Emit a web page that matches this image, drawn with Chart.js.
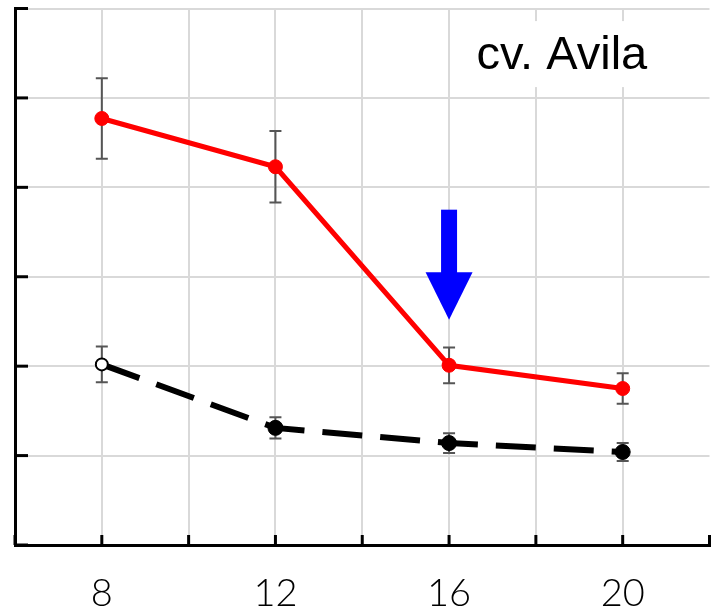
<!DOCTYPE html>
<html>
<head>
<meta charset="utf-8">
<script src="https://cdn.jsdelivr.net/npm/chart.js@4"></script>
<style>
	html, body { margin: 0; padding: 0; background: #fff; }
	#chart { display: block; }
</style>
</head>
<body>
<canvas id="chart" width="718" height="613"></canvas>
<script>
// values
const xValues = [8, 12, 16, 20];
const redValues = [4.77, 4.23, 2.01, 1.75];
const redErrors = [0.45, 0.40, 0.20, 0.17];
const blackValues = [2.02, 1.31, 1.14, 1.04];
const blackErrors = [0.20, 0.12, 0.11, 0.10];
const xTickLabels = [8, 12, 16, 20];
const arrowX = 16;
const arrowTop = 3.75;
const arrowHeadStart = 3.05;
const arrowTip = 2.52;
const panelLabel = 'cv. Avila';
const panelLabelPos = { x: 18.6, y: 5.49 };

(() => {
	'use strict'

	const toPoints = (ys) => xValues.map((x, i) => ({ x: x, y: ys[i] }));

	const errorBars = {
		id: 'errorBars',
		beforeDatasetsDraw(chart) {
			const ctx = chart.ctx;
			const xs = chart.scales.x;
			const ys = chart.scales.y;
			const sets = [[redValues, redErrors], [blackValues, blackErrors]];
			ctx.save();
			ctx.strokeStyle = '#555';
			ctx.lineWidth = 2;
			sets.forEach(([vals, errs]) => {
				vals.forEach((v, i) => {
					const px = xs.getPixelForValue(xValues[i]);
					const top = ys.getPixelForValue(v + errs[i]);
					const bot = ys.getPixelForValue(v - errs[i]);
					ctx.beginPath();
					ctx.moveTo(px, top); ctx.lineTo(px, bot);
					ctx.moveTo(px - 6, top); ctx.lineTo(px + 6, top);
					ctx.moveTo(px - 6, bot); ctx.lineTo(px + 6, bot);
					ctx.stroke();
				});
			});
			ctx.restore();
		}
	};

	const decorations = {
		id: 'decorations',
		afterDraw(chart) {
			const ctx = chart.ctx;
			const xs = chart.scales.x;
			const ys = chart.scales.y;
			const area = chart.chartArea;
			ctx.save();

			// inward tick marks
			ctx.strokeStyle = '#000';
			ctx.lineWidth = 3;
			ys.ticks.forEach((t) => {
				const py = ys.getPixelForValue(t.value);
				ctx.beginPath();
				ctx.moveTo(area.left, py);
				ctx.lineTo(area.left + 13, py);
				ctx.stroke();
			});
			xs.ticks.forEach((t) => {
				const px = xs.getPixelForValue(t.value);
				ctx.beginPath();
				ctx.moveTo(px, area.bottom);
				ctx.lineTo(px, area.bottom - 10);
				ctx.stroke();
			});

			// blue arrow
			const ax = xs.getPixelForValue(arrowX);
			const aTop = ys.getPixelForValue(arrowTop);
			const aHead = ys.getPixelForValue(arrowHeadStart);
			const aTip = ys.getPixelForValue(arrowTip);
			ctx.fillStyle = '#0000ff';
			ctx.fillRect(ax - 8, aTop, 16, aHead - aTop + 1);
			ctx.beginPath();
			ctx.moveTo(ax - 23.5, aHead);
			ctx.lineTo(ax + 23.5, aHead);
			ctx.lineTo(ax, aTip);
			ctx.closePath();
			ctx.fill();

			// panel label
			const lx = xs.getPixelForValue(panelLabelPos.x);
			const ly = ys.getPixelForValue(panelLabelPos.y);
			ctx.font = '47px "Liberation Sans", Arial, sans-serif';
			const w = ctx.measureText(panelLabel).width;
			ctx.fillStyle = '#fff';
			ctx.fillRect(lx - w / 2 - 14, ly - 33, w + 28, 66);
			ctx.fillStyle = '#000';
			ctx.textAlign = 'center';
			ctx.textBaseline = 'middle';
			ctx.fillText(panelLabel, lx, ly + 2);

			ctx.restore();
		}
	};

	new Chart(document.getElementById('chart'), {
		type: 'line',
		data: {
			datasets: [
				{
					label: 'red',
					data: toPoints(redValues),
					borderColor: '#ff0000',
					backgroundColor: '#ff0000',
					borderWidth: 5,
					pointRadius: 7,
					pointBorderWidth: 1,
					pointBackgroundColor: '#ff0000',
					pointBorderColor: '#ff0000',
					tension: 0
				},
				{
					label: 'black',
					data: toPoints(blackValues),
					borderColor: '#000',
					backgroundColor: '#000',
					borderWidth: 6,
					borderDash: [40, 18],
					pointRadius: [6, 7.5, 7.5, 7.5],
					pointBorderWidth: [2, 1, 1, 1],
					pointBackgroundColor: ['#fff', '#000', '#000', '#000'],
					pointBorderColor: '#000',
					tension: 0
				}
			]
		},
		options: {
			responsive: false,
			animation: false,
			layout: { padding: { left: 15, top: 3, right: 0, bottom: 0 } },
			plugins: {
				legend: { display: false },
				tooltip: { enabled: false }
			},
			scales: {
				x: {
					type: 'linear',
					min: 6,
					max: 22,
					border: { color: '#000', width: 3 },
					grid: {
						color: (c) => (c.tick && c.tick.value === 22 ? 'rgba(0,0,0,0)' : '#d9d9d9'),
						lineWidth: 2,
						drawTicks: false
					},
					ticks: {
						stepSize: 2,
						padding: 26,
						maxRotation: 0,
						autoSkip: false,
						color: '#000',
						font: { family: 'Lato, "DejaVu Sans", sans-serif', size: 38, weight: 300 },
						callback: function(value) {
							return xTickLabels.includes(value) ? String(value) : '';
						}
					},
					afterFit: function(scale) {
						scale.height = 68;
						scale.paddingLeft = 0;
						scale.paddingRight = 0;
					}
				},
				y: {
					min: 0,
					max: 6,
					border: { color: '#000', width: 3 },
					grid: { color: '#d9d9d9', lineWidth: 2, drawTicks: false },
					ticks: { stepSize: 1, display: false },
					afterFit: function(scale) {
						scale.width = 0;
						scale.paddingTop = 0;
						scale.paddingBottom = 0;
					}
				}
			}
		},
		plugins: [errorBars, decorations]
	});
})()
</script>
</body>
</html>
